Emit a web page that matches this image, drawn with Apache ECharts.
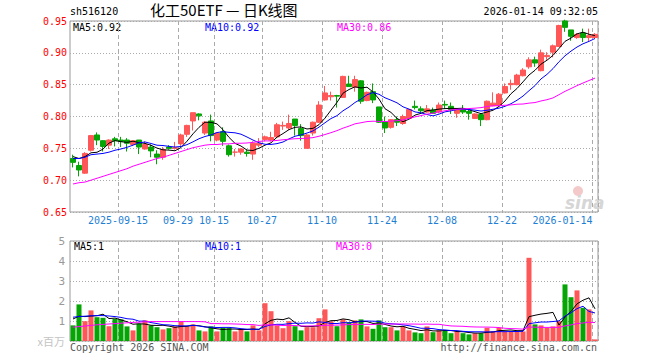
<!DOCTYPE html>
<html><head><meta charset="utf-8">
<script src="https://cdn.jsdelivr.net/npm/echarts@6/dist/echarts.min.js"></script>
<style>html,body{margin:0;padding:0;background:#fff}#c{width:660px;height:360px}</style>
</head><body><div id="c"></div>
<script>
// ---------- data ----------
const dates = [
 '2025-09-03','2025-09-04','2025-09-05','2025-09-08','2025-09-09','2025-09-10','2025-09-11','2025-09-12',
 '2025-09-15','2025-09-16','2025-09-17','2025-09-18','2025-09-19','2025-09-22','2025-09-23','2025-09-24','2025-09-25','2025-09-26',
 '2025-09-29','2025-09-30','2025-10-09','2025-10-10','2025-10-13','2025-10-14',
 '2025-10-15','2025-10-16','2025-10-17','2025-10-20','2025-10-21','2025-10-22','2025-10-23','2025-10-24',
 '2025-10-27','2025-10-28','2025-10-29','2025-10-30','2025-10-31','2025-11-03','2025-11-04','2025-11-05','2025-11-06','2025-11-07',
 '2025-11-10','2025-11-11','2025-11-12','2025-11-13','2025-11-14','2025-11-17','2025-11-18','2025-11-19','2025-11-20','2025-11-21',
 '2025-11-24','2025-11-25','2025-11-26','2025-11-27','2025-11-28','2025-12-01','2025-12-02','2025-12-03','2025-12-04','2025-12-05',
 '2025-12-08','2025-12-09','2025-12-10','2025-12-11','2025-12-12','2025-12-15','2025-12-16','2025-12-17','2025-12-18','2025-12-19',
 '2025-12-22','2025-12-23','2025-12-24','2025-12-25','2025-12-26','2025-12-29','2025-12-30','2025-12-31',
 '2026-01-05','2026-01-06','2026-01-07','2026-01-08','2026-01-09','2026-01-12','2026-01-13','2026-01-14'
];
const opens = [
 0.734,0.723,0.711,0.747,0.771,0.762,0.755,0.765,0.763,0.763,
 0.756,0.763,0.749,0.752,0.741,0.736,0.752,0.750,0.757,0.772,
 0.793,0.804,0.774,0.793,0.763,0.776,0.754,0.744,0.744,0.744,
 0.741,0.755,0.764,0.763,0.768,0.785,0.782,0.796,0.781,0.750,
 0.774,0.791,0.826,0.831,0.833,0.830,0.851,0.846,0.856,0.825,
 0.839,0.815,0.792,0.783,0.795,0.789,0.797,0.816,0.812,0.807,
 0.810,0.807,0.819,0.816,0.805,0.811,0.808,0.797,0.803,0.795,
 0.817,0.817,0.837,0.850,0.850,0.864,0.878,0.889,0.872,0.894,
 0.901,0.910,0.950,0.936,0.924,0.931,0.924,0.924
];
const closes = [
 0.728,0.716,0.742,0.770,0.763,0.753,0.763,0.762,0.761,0.758,
 0.762,0.752,0.756,0.746,0.736,0.748,0.750,0.751,0.771,0.786,
 0.806,0.801,0.791,0.770,0.774,0.761,0.740,0.744,0.749,0.742,
 0.758,0.758,0.768,0.767,0.787,0.786,0.789,0.786,0.770,0.771,
 0.791,0.818,0.837,0.833,0.832,0.863,0.847,0.858,0.824,0.838,
 0.826,0.791,0.782,0.795,0.791,0.800,0.811,0.814,0.809,0.812,
 0.805,0.818,0.818,0.811,0.811,0.807,0.805,0.804,0.795,0.824,
 0.821,0.835,0.847,0.852,0.865,0.873,0.889,0.884,0.900,0.896,
 0.911,0.943,0.940,0.926,0.929,0.924,0.927,0.929
];
const lows = [
 0.720,0.706,0.710,0.745,0.755,0.745,0.749,0.753,0.752,0.745,
 0.754,0.741,0.748,0.736,0.725,0.732,0.748,0.748,0.754,0.768,
 0.778,0.794,0.771,0.761,0.761,0.754,0.737,0.737,0.740,0.737,
 0.732,0.752,0.761,0.761,0.766,0.779,0.779,0.770,0.762,0.750,
 0.770,0.790,0.825,0.825,0.814,0.829,0.847,0.839,0.820,0.824,
 0.821,0.790,0.774,0.781,0.785,0.787,0.796,0.811,0.805,0.806,
 0.804,0.805,0.812,0.804,0.798,0.804,0.795,0.796,0.785,0.794,
 0.816,0.816,0.836,0.842,0.849,0.863,0.875,0.878,0.871,0.889,
 0.893,0.909,0.933,0.919,0.922,0.917,0.918,0.922
];
const highs = [
 0.740,0.729,0.744,0.771,0.775,0.763,0.764,0.768,0.768,0.766,
 0.762,0.763,0.761,0.756,0.747,0.752,0.755,0.760,0.773,0.787,
 0.806,0.805,0.793,0.803,0.775,0.783,0.756,0.749,0.750,0.748,
 0.761,0.766,0.770,0.776,0.790,0.792,0.803,0.796,0.788,0.773,
 0.792,0.824,0.848,0.839,0.834,0.864,0.864,0.864,0.857,0.839,
 0.852,0.815,0.800,0.796,0.800,0.803,0.812,0.825,0.816,0.818,
 0.814,0.822,0.825,0.822,0.812,0.818,0.811,0.805,0.804,0.825,
 0.838,0.837,0.852,0.858,0.867,0.876,0.893,0.894,0.905,0.901,
 0.913,0.944,0.952,0.936,0.931,0.938,0.938,0.931
];
const volumes = [
 0.78,1.83,0.99,1.53,1.19,1.16,0.74,1.11,1.08,0.73,
 0.53,0.86,1.03,0.78,0.69,0.58,0.64,0.73,0.99,0.73,
 0.83,0.53,0.48,0.73,0.48,0.66,0.64,0.48,0.61,0.48,
 0.78,0.53,1.89,1.49,0.78,0.64,0.99,0.74,0.53,0.69,
 0.69,1.14,1.58,0.98,0.74,1.08,0.94,1.03,1.08,0.73,
 0.61,1.03,0.69,0.69,0.53,0.73,0.53,0.43,0.39,0.73,
 0.44,0.53,0.53,0.39,0.48,0.39,0.33,0.39,0.39,0.66,
 0.48,0.66,0.48,0.48,0.48,0.48,4.16,0.83,0.78,0.66,
 0.73,0.99,2.83,2.19,2.53,1.66,1.58,0.08
];
// moving-average values at the start of the window (earlier days are not shown)
const priceMa5Head  = [0.737,0.734,0.737,0.743];
const priceMa10Head = [0.734,0.734,0.736,0.740,0.741,0.742,0.744,0.747,0.749];
const priceMa30Head = [0.694,0.696,0.697,0.700,0.703,0.706,0.709,0.712,0.715,0.718,
                       0.722,0.725,0.728,0.731,0.734,0.736,0.739,0.742,0.745,0.748,
                       0.751,0.753,0.755,0.756,0.756,0.757,0.757,0.758,0.758];
const volMa5Head  = [1.10,1.24,1.22,1.25];
const volMa10Head = [1.19,1.22,1.24,1.26,1.27,1.27,1.25,1.22,1.18];
const volMa30Head = [0.69,0.72,0.75,0.78,0.81,0.83,0.85,0.87,0.89,0.91,
                     0.93,0.94,0.96,0.97,0.97,0.97,0.97,0.97,0.97,0.97,
                     0.97,0.97,0.96,0.87,0.87,0.86,0.86,0.85,0.84];
const tickDates = ['2025-09-15','2025-09-29','2025-10-15','2025-10-27','2025-11-10','2025-11-24','2025-12-08','2025-12-22','2026-01-14'];
const tickTexts = ['2025-09-15','09-29','10-15','10-27','11-10','11-24','12-08','12-22','2026-01-14'];
const priceMaLabels = ['MA5:0.92','MA10:0.92','MA30:0.86'];
const volMaLabels = ['MA5:1','MA10:1','MA30:0'];
const headerCode = 'sh516120';
const headerTitle = '化工50ETF — 日K线图';
const headerTime = '2026-01-14 09:32:05';
const footerLeft = 'Copyright 2026 SINA.COM';
const footerRight = 'http://finance.sina.com.cn';
const volUnit = 'x百万';

// ---------- helpers ----------
function movingAvg(vals, n, head) {
  return vals.map((v, i) => {
    if (i < n - 1) return head[i];
    let s = 0;
    for (let k = i - n + 1; k <= i; k++) s += vals[k];
    return +(s / n).toFixed(4);
  });
}
const RED = '#ff5757', GREEN = '#05a505';
const MONO = 'DejaVu Sans Mono';
const candleData = dates.map((d, i) => [opens[i], closes[i], lows[i], highs[i]]);
const volData = volumes.map((v, i) => ({ value: v, itemStyle: { color: closes[i] >= opens[i] ? RED : GREEN } }));
const tickIdx = new Set(tickDates.map(d => dates.indexOf(d)));
const isTick = (idx) => tickIdx.has(idx);
const lastTick = dates.indexOf(tickDates[tickDates.length - 1]);

const GL = 70, GW = 528;
const splitV = { show: true, interval: isTick, lineStyle: { color: '#aaa', type: [4, 3], width: 1 } };

const chart = echarts.init(document.getElementById('c'), null, { renderer: 'svg' });
chart.setOption({
  animation: false,
  backgroundColor: '#fff',
  grid: [
    { left: GL, top: 21, width: GW, height: 191, show: true, borderColor: '#999', borderWidth: 1, backgroundColor: 'transparent' },
    { left: GL, top: 241, width: GW, height: 100, show: true, borderColor: '#999', borderWidth: 1, backgroundColor: 'transparent' }
  ],
  xAxis: [
    { type: 'category', gridIndex: 0, data: dates, boundaryGap: true,
      axisLine: { show: false }, axisTick: { show: false },
      axisLabel: { interval: isTick, margin: 3,
        formatter: (val, idx) => {
          const t = tickTexts[tickDates.indexOf(val)];
          return (dates.indexOf(val) === lastTick ? '{b|' : '{a|') + t + '}';
        },
        rich: {
          a: { fontFamily: MONO, fontSize: 10, color: '#1f7fd4', padding: [0, 6, 0, 0] },
          b: { fontFamily: MONO, fontSize: 10, color: '#1f7fd4', padding: [0, 65, 0, 0] }
        }
      },
      splitLine: splitV },
    { type: 'category', gridIndex: 1, data: dates, boundaryGap: true,
      axisLine: { show: false }, axisTick: { show: false }, axisLabel: { show: false },
      splitLine: splitV }
  ],
  yAxis: [
    { type: 'value', gridIndex: 0, min: 0.65, max: 0.95, interval: 0.05,
      axisLine: { show: false }, axisTick: { show: false },
      axisLabel: { color: '#f00', fontFamily: MONO, fontSize: 10, margin: 3, formatter: v => v.toFixed(2) },
      splitLine: { show: true, lineStyle: { color: '#aaa', type: [1, 2], width: 1 } } },
    { type: 'value', gridIndex: 1, min: 0, max: 5, interval: 1,
      axisLine: { show: false }, axisTick: { show: false },
      axisLabel: { color: '#999', fontFamily: MONO, fontSize: 11, margin: 5,
        formatter: v => v === 0 ? '{u|' + volUnit + '}' : String(v),
        rich: { u: { color: '#c4c4c4', fontSize: 11, fontFamily: 'Noto Sans CJK SC' } } },
      splitLine: { show: true, lineStyle: { color: '#aaa', type: [1, 2], width: 1 } } }
  ],
  series: [
    { type: 'candlestick', xAxisIndex: 0, yAxisIndex: 0, data: candleData, barWidth: 5,
      itemStyle: { color: RED, color0: GREEN, borderColor: RED, borderColor0: GREEN, borderWidth: 1 } },
    { type: 'line', xAxisIndex: 0, yAxisIndex: 0, data: movingAvg(closes, 5, priceMa5Head), symbol: 'none', lineStyle: { color: '#000', width: 1 } },
    { type: 'line', xAxisIndex: 0, yAxisIndex: 0, data: movingAvg(closes, 10, priceMa10Head), symbol: 'none', lineStyle: { color: '#0000ff', width: 1 } },
    { type: 'line', xAxisIndex: 0, yAxisIndex: 0, data: movingAvg(closes, 30, priceMa30Head), symbol: 'none', lineStyle: { color: '#ff00ff', width: 1 } },
    { type: 'bar', xAxisIndex: 1, yAxisIndex: 1, data: volData, barWidth: 5 },
    { type: 'line', xAxisIndex: 1, yAxisIndex: 1, data: movingAvg(volumes, 5, volMa5Head), symbol: 'none', lineStyle: { color: '#000', width: 1 } },
    { type: 'line', xAxisIndex: 1, yAxisIndex: 1, data: movingAvg(volumes, 10, volMa10Head), symbol: 'none', lineStyle: { color: '#0000ff', width: 1 } },
    { type: 'line', xAxisIndex: 1, yAxisIndex: 1, data: movingAvg(volumes, 30, volMa30Head), symbol: 'none', lineStyle: { color: '#ff00ff', width: 1 } }
  ],
  graphic: [
    { type: 'text', left: 70, top: 6, style: { text: headerCode, font: '10px "DejaVu Sans Mono"', fill: '#000' } },
    { type: 'text', left: 150, top: 2, style: { text: headerTitle, font: '15px "Noto Sans CJK SC"', fill: '#000' } },
    { type: 'text', right: 62, top: 6, style: { text: headerTime, font: '10px "DejaVu Sans Mono"', fill: '#000' } },
    { type: 'text', left: 73, top: 22, style: { text: priceMaLabels[0], font: '10px "DejaVu Sans Mono"', fill: '#000' } },
    { type: 'text', left: 205, top: 22, style: { text: priceMaLabels[1], font: '10px "DejaVu Sans Mono"', fill: '#0000ff' } },
    { type: 'text', left: 337, top: 22, style: { text: priceMaLabels[2], font: '10px "DejaVu Sans Mono"', fill: '#ff00ff' } },
    { type: 'text', left: 74, top: 241, style: { text: volMaLabels[0], font: '10px "DejaVu Sans Mono"', fill: '#000' } },
    { type: 'text', left: 205, top: 241, style: { text: volMaLabels[1], font: '10px "DejaVu Sans Mono"', fill: '#0000ff' } },
    { type: 'text', left: 336, top: 241, style: { text: volMaLabels[2], font: '10px "DejaVu Sans Mono"', fill: '#ff00ff' } },
    { type: 'text', left: 70, top: 342, style: { text: footerLeft, font: '10px "DejaVu Sans Mono"', fill: '#555' } },
    { type: 'text', right: 63, top: 342, style: { text: footerRight, font: '10px "DejaVu Sans Mono"', fill: '#555' } },
    { type: 'circle', shape: { cx: 578, cy: 191, r: 5 }, style: { fill: '#f3c9c9' } },
    { type: 'text', left: 565, top: 194, style: { text: 'sina', font: 'italic bold 17px "DejaVu Sans"', fill: '#d6d6d6' } }
  ]
});
</script>
</body></html>
